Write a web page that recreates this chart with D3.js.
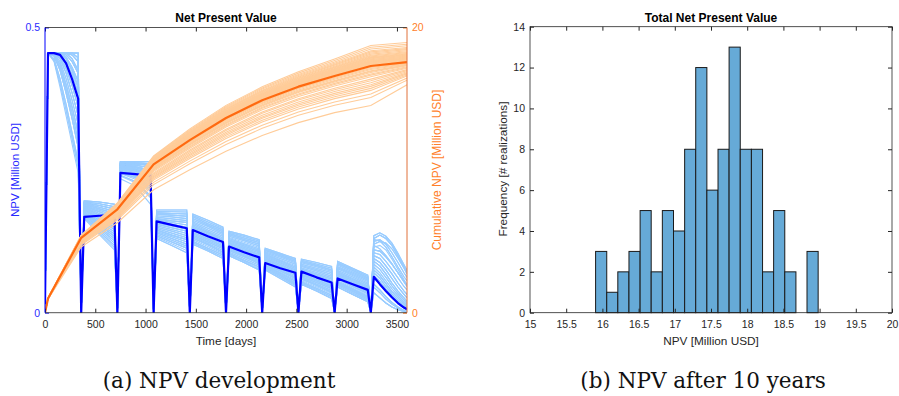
<!DOCTYPE html>
<html><head><meta charset="utf-8">
<script src="https://cdn.jsdelivr.net/npm/d3@7"></script>
<style>body{margin:0;background:#fff}svg{display:block}</style>
</head><body>
<svg id="c" width="899" height="396"></svg>
<script>
// ---------------- DATA ----------------
// Left panel: per-step NPV [Million USD] (left axis) and cumulative NPV (right axis)
const blueTime = [0,30,90,150,210,270,330,360, 390,540,690,720, 750,900,1050,1080,
  1110,1260,1410,1440, 1470,1620,1770,1800, 1830,1980,2130,2160, 2190,2340,2490,2520,
  2550,2700,2850,2880, 2910,3060,3210,3240, 3270,3330,3390,3450,3510,3570,3600];

const npvMean = [0.015,.455,.455,.452,.437,.409,.375,0, .168,.170,.172,0, .245,.243,.240,0,
  .160,.154,.148,0, .145,.134,.124,0, .116,.106,.097,0, .087,.078,.070,0, .072,.062,.053,0,
  .060,.050,.040,0, .063,.050,.038,.027,.017,.009,.006];

const npvRealizations = [
 [0,.455,.455,.455,.455,.455,.455,0,.196,.194,.190,0,.265,.265,.265,0,.175,.174,.173,0,.173,.162,.150,0,.139,.131,.123,0,.113,.104,.095,0,.090,.083,.075,0,.090,.078,.066,0,.130,.136,.130,.118,.100,.080,.070],
 [0,.455,.455,.455,.455,.455,.455,0,.193,.188,.182,0,.265,.265,.265,0,.180,.180,.180,0,.168,.156,.145,0,.143,.136,.128,0,.109,.100,.090,0,.094,.088,.081,0,.086,.074,.061,0,.120,.125,.122,.112,.096,.078,.068],
 [0,.455,.455,.455,.455,.455,.455,0,.193,.188,.182,0,.262,.261,.258,0,.170,.168,.165,0,.168,.156,.145,0,.134,.126,.117,0,.109,.100,.090,0,.085,.078,.070,0,.081,.069,.057,0,.125,.128,.120,.105,.088,.070,.062],
 [0,.455,.455,.455,.455,.452,.440,0,.196,.194,.190,0,.262,.261,.258,0,.175,.174,.173,0,.162,.151,.139,0,.139,.131,.123,0,.105,.095,.085,0,.090,.083,.075,0,.086,.074,.061,0,.115,.118,.110,.094,.076,.058,.050],
 [0,.455,.455,.455,.455,.452,.440,0,.190,.182,.174,0,.265,.265,.265,0,.165,.161,.158,0,.162,.151,.139,0,.130,.121,.112,0,.105,.095,.085,0,.081,.073,.064,0,.077,.065,.052,0,.110,.108,.098,.085,.070,.055,.048],
 [0,.455,.455,.455,.455,.452,.440,0,.193,.188,.182,0,.259,.256,.250,0,.170,.168,.165,0,.157,.145,.134,0,.134,.126,.117,0,.102,.091,.080,0,.085,.078,.070,0,.081,.069,.057,0,.130,.136,.130,.118,.100,.080,.070],
 [0,.455,.455,.455,.452,.440,.420,0,.190,.182,.174,0,.262,.261,.258,0,.165,.161,.158,0,.157,.145,.134,0,.126,.117,.107,0,.102,.091,.080,0,.076,.068,.059,0,.077,.065,.052,0,.100,.095,.082,.068,.052,.038,.032],
 [0,.455,.455,.455,.452,.440,.420,0,.187,.177,.166,0,.262,.261,.258,0,.160,.155,.150,0,.152,.140,.128,0,.130,.121,.112,0,.098,.087,.075,0,.081,.073,.064,0,.072,.060,.047,0,.110,.108,.098,.085,.070,.055,.048],
 [0,.455,.455,.455,.452,.440,.420,0,.190,.182,.174,0,.259,.256,.250,0,.155,.149,.143,0,.152,.140,.128,0,.122,.112,.102,0,.098,.087,.075,0,.072,.063,.053,0,.068,.056,.043,0,.090,.082,.068,.052,.038,.026,.020],
 [0,.455,.455,.453,.445,.425,.395,0,.187,.177,.166,0,.262,.261,.258,0,.160,.155,.150,0,.147,.135,.123,0,.126,.117,.107,0,.094,.082,.070,0,.076,.068,.059,0,.072,.060,.047,0,.125,.128,.120,.105,.088,.070,.062],
 [0,.455,.455,.453,.445,.425,.395,0,.184,.171,.158,0,.259,.256,.250,0,.155,.149,.143,0,.147,.135,.123,0,.122,.112,.102,0,.094,.082,.070,0,.068,.058,.047,0,.068,.056,.043,0,.080,.070,.056,.042,.030,.018,.013],
 [0,.455,.455,.453,.445,.425,.395,0,.187,.177,.166,0,.256,.252,.243,0,.150,.143,.135,0,.141,.129,.117,0,.117,.107,.096,0,.090,.078,.065,0,.072,.063,.053,0,.063,.051,.038,0,.100,.095,.082,.068,.052,.038,.032],
 [0,.455,.455,.450,.435,.410,.375,0,.184,.171,.158,0,.259,.256,.250,0,.155,.149,.143,0,.141,.129,.117,0,.122,.112,.102,0,.090,.078,.065,0,.068,.058,.047,0,.063,.051,.038,0,.070,.060,.046,.033,.022,.012,.008],
 [0,.455,.455,.450,.435,.410,.375,0,.181,.165,.150,0,.256,.252,.243,0,.150,.143,.135,0,.147,.135,.123,0,.117,.107,.096,0,.094,.082,.070,0,.063,.053,.042,0,.059,.046,.033,0,.090,.082,.068,.052,.038,.026,.020],
 [0,.455,.455,.450,.435,.410,.375,0,.184,.171,.158,0,.253,.248,.235,0,.145,.136,.128,0,.136,.124,.112,0,.113,.102,.091,0,.086,.073,.060,0,.068,.058,.047,0,.059,.046,.033,0,.060,.050,.037,.026,.016,.008,.004],
 [0,.455,.455,.445,.420,.385,.345,0,.181,.165,.150,0,.259,.256,.250,0,.160,.155,.150,0,.141,.129,.117,0,.113,.102,.091,0,.090,.078,.065,0,.063,.053,.042,0,.063,.051,.038,0,.110,.108,.098,.085,.070,.055,.048],
 [0,.455,.455,.445,.420,.385,.345,0,.177,.159,.142,0,.256,.252,.243,0,.145,.136,.128,0,.136,.124,.112,0,.117,.107,.096,0,.086,.073,.060,0,.063,.053,.042,0,.054,.041,.028,0,.080,.070,.056,.042,.030,.018,.013],
 [0,.455,.455,.445,.420,.385,.345,0,.181,.165,.150,0,.250,.243,.228,0,.140,.130,.120,0,.131,.119,.106,0,.109,.098,.086,0,.086,.073,.060,0,.059,.048,.036,0,.059,.046,.033,0,.050,.040,.028,.018,.010,.004,.002],
 [0,.455,.452,.435,.400,.360,.315,0,.177,.159,.142,0,.253,.248,.235,0,.145,.136,.128,0,.131,.119,.106,0,.109,.098,.086,0,.083,.069,.055,0,.059,.048,.036,0,.054,.041,.028,0,.070,.060,.046,.033,.022,.012,.008],
 [0,.455,.452,.435,.400,.360,.315,0,.174,.154,.134,0,.247,.239,.220,0,.140,.130,.120,0,.136,.124,.112,0,.104,.092,.080,0,.083,.069,.055,0,.054,.043,.031,0,.050,.037,.024,0,.035,.026,.017,.010,.005,.002,.001],
 [0,.455,.452,.435,.400,.360,.315,0,.174,.154,.134,0,.256,.252,.243,0,.135,.124,.113,0,.125,.113,.101,0,.109,.098,.086,0,.079,.065,.050,0,.059,.048,.036,0,.054,.041,.028,0,.060,.050,.037,.026,.016,.008,.004],
 [0,.455,.450,.425,.385,.340,.290,0,.171,.148,.126,0,.250,.243,.228,0,.140,.130,.120,0,.131,.119,.106,0,.104,.092,.080,0,.079,.065,.050,0,.054,.043,.031,0,.050,.037,.024,0,.050,.040,.028,.018,.010,.004,.002],
 [0,.455,.450,.425,.385,.340,.290,0,.171,.148,.126,0,.244,.234,.213,0,.135,.124,.113,0,.125,.113,.101,0,.104,.092,.080,0,.079,.065,.050,0,.054,.043,.031,0,.045,.032,.019,0,.035,.026,.017,.010,.005,.002,.001],
 [0,.455,.445,.410,.365,.315,.265,0,.168,.142,.118,0,.241,.230,.205,0,.130,.118,.105,0,.125,.113,.101,0,.100,.088,.075,0,.075,.060,.045,0,.050,.038,.025,0,.050,.037,.024,0,.060,.050,.037,.026,.016,.008,.004],
 [0,.455,.445,.410,.365,.315,.265,0,.168,.142,.118,0,.247,.239,.220,0,.135,.124,.113,0,.120,.108,.095,0,.100,.088,.075,0,.079,.065,.050,0,.050,.038,.025,0,.045,.032,.019,0,.050,.040,.028,.018,.010,.004,.002],
 [0,.455,.440,.395,.345,.295,.245,0,.165,.137,.110,0,.235,.222,.190,0,.130,.118,.105,0,.120,.108,.095,0,.100,.088,.075,0,.075,.060,.045,0,.050,.038,.025,0,.045,.032,.019,0,.035,.026,.017,.010,.005,.002,.001],
 [0,.455,.455,.455,.455,.455,.455,0,.196,.194,.190,0,.262,.261,.258,0,.180,.180,.180,0,.168,.156,.145,0,.139,.131,.123,0,.113,.104,.095,0,.090,.083,.075,0,.086,.074,.061,0,.120,.125,.122,.112,.096,.078,.068],
 [0,.455,.455,.455,.455,.452,.440,0,.193,.188,.182,0,.265,.265,.265,0,.175,.174,.173,0,.173,.162,.150,0,.143,.136,.128,0,.109,.100,.090,0,.094,.088,.081,0,.090,.078,.066,0,.130,.136,.130,.118,.100,.080,.070],
 [0,.455,.455,.453,.445,.425,.395,0,.187,.177,.166,0,.253,.248,.235,0,.165,.161,.158,0,.152,.140,.128,0,.126,.117,.107,0,.102,.091,.080,0,.076,.068,.059,0,.068,.056,.043,0,.090,.082,.068,.052,.038,.026,.020],
 [0,.455,.450,.425,.385,.340,.290,0,.174,.154,.134,0,.241,.230,.205,0,.145,.136,.128,0,.131,.119,.106,0,.113,.102,.091,0,.083,.069,.055,0,.059,.048,.036,0,.054,.041,.028,0,.100,.095,.082,.068,.052,.038,.032],
 [0,.455,.455,.455,.455,.455,.447,0,.1945,.191,.186,0,.2635,.263,.2615,0,.1775,.177,.1765,0,.1705,.159,.1475,0,.141,.1335,.1255,0,.111,.102,.0925,0,.092,.0855,.078,0,.088,.076,.0635,0,.135,.140,.134,.122,.104,.084,.074],
 [0,.455,.455,.455,.455,.455,.447,0,.1915,.185,.178,0,.2635,.263,.2615,0,.1725,.171,.169,0,.165,.1535,.142,0,.1365,.1285,.120,0,.107,.0975,.0875,0,.0875,.0805,.0725,0,.0835,.0715,.059,0,.128,.126,.115,.098,.080,.063,.056],
 [0,.455,.455,.455,.455,.445,.425,0,.1945,.191,.186,0,.2605,.2585,.254,0,.1675,.1645,.1615,0,.165,.1535,.142,0,.132,.1235,.1145,0,.107,.0975,.0875,0,.083,.0755,.067,0,.079,.067,.0545,0,.118,.112,.100,.086,.070,.054,.046],
 [0,.455,.455,.455,.455,.445,.425,0,.1885,.1795,.170,0,.2635,.263,.2615,0,.1725,.171,.169,0,.1595,.148,.1365,0,.1365,.1285,.120,0,.1035,.093,.0825,0,.083,.0755,.067,0,.079,.067,.0545,0,.105,.102,.090,.076,.061,.046,.040],
 [0,.455,.455,.455,.448,.430,.405,0,.1915,.185,.178,0,.2605,.2585,.254,0,.1625,.158,.154,0,.1595,.148,.1365,0,.128,.119,.1095,0,.100,.089,.0775,0,.0785,.0705,.0615,0,.0745,.0625,.0495,0,.095,.088,.075,.060,.045,.032,.026],
 [0,.455,.455,.455,.448,.430,.405,0,.1855,.174,.162,0,.2635,.263,.2615,0,.1675,.1645,.1615,0,.1545,.1425,.131,0,.124,.1145,.1045,0,.100,.089,.0775,0,.074,.0655,.056,0,.070,.058,.045,0,.128,.126,.115,.098,.080,.063,.056],
 [0,.455,.455,.452,.440,.418,.385,0,.1885,.1795,.170,0,.2575,.254,.2465,0,.1575,.152,.1465,0,.1545,.1425,.131,0,.124,.1145,.1045,0,.096,.0845,.0725,0,.074,.0655,.056,0,.0745,.0625,.0495,0,.085,.076,.062,.047,.034,.022,.016],
 [0,.455,.455,.452,.440,.418,.385,0,.1825,.168,.154,0,.2605,.2585,.254,0,.1525,.146,.139,0,.1495,.1375,.1255,0,.1195,.1095,.099,0,.092,.080,.0675,0,.070,.0605,.050,0,.0655,.0535,.0405,0,.075,.065,.051,.037,.026,.015,.010],
 [0,.455,.455,.448,.428,.398,.360,0,.1855,.174,.162,0,.2545,.250,.239,0,.1625,.158,.154,0,.144,.132,.120,0,.1195,.1095,.099,0,.096,.0845,.0725,0,.070,.0605,.050,0,.061,.0485,.0355,0,.065,.055,.042,.030,.019,.010,.006],
 [0,.455,.455,.448,.428,.398,.360,0,.179,.162,.146,0,.2575,.254,.2465,0,.1475,.1395,.1315,0,.1385,.1265,.1145,0,.115,.1045,.0935,0,.088,.0755,.0625,0,.0655,.0555,.0445,0,.061,.0485,.0355,0,.105,.102,.090,.076,.061,.046,.040],
 [0,.455,.454,.440,.410,.372,.330,0,.1825,.168,.154,0,.2515,.2455,.2315,0,.1525,.146,.139,0,.144,.132,.120,0,.115,.1045,.0935,0,.092,.080,.0675,0,.0655,.0555,.0445,0,.0655,.0535,.0405,0,.095,.088,.075,.060,.045,.032,.026],
 [0,.455,.454,.440,.410,.372,.330,0,.1755,.1565,.138,0,.2545,.250,.239,0,.1425,.133,.124,0,.1335,.1215,.109,0,.111,.100,.0885,0,.0845,.071,.0575,0,.061,.0505,.039,0,.0565,.0435,.0305,0,.045,.035,.024,.015,.008,.003,.001],
 [0,.455,.451,.430,.392,.350,.302,0,.1755,.1565,.138,0,.2485,.241,.224,0,.1375,.127,.1165,0,.1335,.1215,.109,0,.1065,.095,.083,0,.081,.067,.0525,0,.0565,.0455,.0335,0,.052,.039,.026,0,.065,.055,.042,.030,.019,.010,.006],
 [0,.455,.451,.430,.392,.350,.302,0,.1725,.151,.130,0,.2515,.2455,.2315,0,.1425,.133,.124,0,.128,.116,.1035,0,.111,.100,.0885,0,.081,.067,.0525,0,.061,.0505,.039,0,.052,.039,.026,0,.075,.065,.051,.037,.026,.015,.010],
 [0,.455,.442,.402,.355,.305,.255,0,.1695,.145,.122,0,.2455,.2365,.2165,0,.1325,.121,.109,0,.1225,.1105,.098,0,.102,.090,.0775,0,.077,.0625,.0475,0,.052,.0405,.028,0,.0475,.0345,.0215,0,.045,.035,.024,.015,.008,.003,.001],
 [0,.455,.442,.402,.355,.305,.255,0,.1665,.1395,.114,0,.2395,.228,.2015,0,.1375,.127,.1165,0,.1225,.1105,.098,0,.1065,.095,.083,0,.077,.0625,.0475,0,.052,.0405,.028,0,.0475,.0345,.0215,0,.085,.076,.062,.047,.034,.022,.016],
 [0,.455,.455,.455,.455,.455,.447,0,.1945,.191,.186,0,.2605,.2585,.254,0,.1775,.177,.1765,0,.165,.1535,.142,0,.141,.1335,.1255,0,.111,.102,.0925,0,.0875,.0805,.0725,0,.088,.076,.0635,0,.118,.112,.100,.086,.070,.054,.046],
 [0,.455,.455,.455,.455,.445,.425,0,.1915,.185,.178,0,.2575,.254,.2465,0,.1725,.171,.169,0,.1705,.159,.1475,0,.1365,.1285,.120,0,.111,.102,.0925,0,.092,.0855,.078,0,.0835,.0715,.059,0,.135,.140,.134,.122,.104,.084,.074],
 [0,.455,.455,.455,.448,.430,.405,0,.179,.162,.146,0,.2545,.250,.239,0,.1575,.152,.1465,0,.1495,.1375,.1255,0,.128,.119,.1095,0,.096,.0845,.0725,0,.0785,.0705,.0615,0,.070,.058,.045,0,.075,.065,.051,.037,.026,.015,.010],
 [0,.455,.455,.448,.428,.398,.360,0,.1725,.151,.130,0,.2455,.2365,.2165,0,.1475,.1395,.1315,0,.1385,.1265,.1145,0,.1195,.1095,.099,0,.088,.0755,.0625,0,.0655,.0555,.0445,0,.0655,.0535,.0405,0,.095,.088,.075,.060,.045,.032,.026]
];

const cumTime = [0,30,360,720,1080,1440,1800,2160,2520,2880,3240,3600];
const cumMean = [0,1.0,5.25,7.25,10.4,12.1,13.65,14.9,15.85,16.6,17.3,17.57];
const cumRealizations = [
 [0,1.03,5.45,7.70,10.99,12.89,14.54,15.84,16.89,17.79,18.74,18.95],
 [0,1.03,5.43,7.66,10.94,12.82,14.46,15.76,16.80,17.68,18.61,18.83],
 [0,1.02,5.41,7.62,10.89,12.76,14.39,15.68,16.71,17.58,18.49,18.72],
 [0,1.02,5.40,7.58,10.84,12.69,14.32,15.60,16.63,17.49,18.37,18.60],
 [0,1.02,5.39,7.56,10.81,12.64,14.26,15.55,16.56,17.42,18.29,18.52],
 [0,1.02,5.38,7.53,10.78,12.60,14.22,15.50,16.51,17.36,18.21,18.45],
 [0,1.02,5.36,7.51,10.74,12.56,14.16,15.44,16.45,17.28,18.13,18.37],
 [0,1.02,5.35,7.48,10.71,12.52,14.12,15.39,16.40,17.22,18.05,18.30],
 [0,1.01,5.35,7.47,10.69,12.48,14.08,15.36,16.35,17.18,18.00,18.24],
 [0,1.01,5.34,7.45,10.66,12.45,14.05,15.32,16.31,17.13,17.94,18.18],
 [0,1.01,5.33,7.43,10.65,12.43,14.02,15.29,16.28,17.09,17.89,18.14],
 [0,1.01,5.33,7.42,10.63,12.40,13.99,15.26,16.25,17.06,17.85,18.10],
 [0,1.01,5.32,7.41,10.61,12.38,13.97,15.23,16.22,17.02,17.81,18.06],
 [0,1.01,5.31,7.39,10.59,12.36,13.94,15.20,16.19,16.98,17.76,18.02],
 [0,1.01,5.31,7.39,10.58,12.34,13.92,15.19,16.17,16.96,17.74,17.99],
 [0,1.01,5.30,7.37,10.56,12.32,13.89,15.16,16.13,16.92,17.69,17.95],
 [0,1.00,5.30,7.36,10.55,12.30,13.88,15.14,16.11,16.90,17.66,17.92],
 [0,1.00,5.29,7.35,10.53,12.28,13.85,15.11,16.08,16.86,17.62,17.88],
 [0,1.00,5.29,7.34,10.52,12.26,13.83,15.09,16.06,16.84,17.59,17.85],
 [0,1.00,5.29,7.33,10.51,12.24,13.81,15.07,16.04,16.82,17.56,17.82],
 [0,1.00,5.28,7.32,10.49,12.22,13.79,15.04,16.01,16.78,17.52,17.78],
 [0,1.00,5.27,7.30,10.47,12.20,13.76,15.01,15.98,16.74,17.47,17.74],
 [0,1.00,5.27,7.29,10.45,12.17,13.73,14.99,15.94,16.71,17.43,17.70],
 [0,1.00,5.26,7.28,10.44,12.15,13.70,14.96,15.91,16.67,17.39,17.65],
 [0,1.00,5.25,7.26,10.41,12.12,13.67,14.92,15.87,16.62,17.33,17.60],
 [0,1.00,5.24,7.24,10.38,12.08,13.63,14.88,15.82,16.57,17.27,17.55],
 [0,1.00,5.22,7.21,10.33,12.02,13.56,14.80,15.75,16.50,17.19,17.50],
 [0,1.00,5.21,7.19,10.29,11.97,13.51,14.75,15.70,16.44,17.13,17.47],
 [0,1.00,5.19,7.16,10.24,11.91,13.44,14.68,15.62,16.37,17.05,17.42],
 [0,0.99,5.17,7.14,10.18,11.85,13.37,14.60,15.54,16.29,16.96,17.38],
 [0,0.99,5.16,7.12,10.15,11.81,13.32,14.55,15.49,16.24,16.91,17.35],
 [0,0.99,5.15,7.10,10.11,11.76,13.27,14.50,15.44,16.18,16.85,17.32],
 [0,0.99,5.12,7.06,10.04,11.68,13.18,14.40,15.34,16.08,16.74,17.25],
 [0,0.99,5.10,7.03,9.99,11.62,13.11,14.33,15.26,16.00,16.66,17.20],
 [0,0.99,5.07,6.99,9.91,11.53,13.02,14.23,15.16,15.90,16.54,17.14],
 [0,0.98,5.04,6.94,9.81,11.41,12.87,14.08,15.01,15.74,16.38,17.05],
 [0,0.98,5.01,6.90,9.73,11.32,12.78,13.98,14.91,15.64,16.26,16.98],
 [0,0.98,4.98,6.85,9.64,11.22,12.66,13.85,14.78,15.51,16.12,16.90],
 [0,0.98,4.94,6.80,9.55,11.11,12.55,13.73,14.65,15.38,15.98,16.82],
 [0,0.97,4.92,6.77,9.48,11.03,12.45,13.63,14.55,15.27,15.87,16.75],
 [0,0.97,4.89,6.72,9.39,10.92,12.33,13.50,14.42,15.14,15.73,16.67],
 [0,0.97,4.85,6.67,9.30,10.82,12.22,13.38,14.29,15.01,15.59,16.60],
 [0,0.97,4.80,6.59,9.14,10.63,12.01,13.15,14.07,14.78,15.34,16.45],
 [0,0.96,4.74,6.50,8.98,10.44,11.79,12.93,13.84,14.55,15.09,16.30],
 [0,0.95,4.61,6.31,8.62,10.02,11.32,12.43,13.33,14.03,14.53,15.98]
];

const timeTicks = [0,500,1000,1500,2000,2500,3000,3500];
const npvTicks = [0,0.5];
const cumTicks = [0,20];

// Right panel: histogram of total NPV
const histEdges = [15.906,16.060,16.213,16.367,16.521,16.674,16.828,16.982,17.136,17.289,17.443,
  17.597,17.750,17.904,18.058,18.212,18.365,18.519,18.673,18.826,18.980];
const histCounts = [3,1,2,3,5,2,5,4,8,12,6,8,13,8,8,2,5,2,0,3];
const npvAxisTicks = [15,15.5,16,16.5,17,17.5,18,18.5,19,19.5,20];
const freqTicks = [0,2,4,6,8,10,12,14];

// ---------------- DRAWING ----------------
const svg = d3.select("#c");
const SANS = "'Liberation Sans', Arial, Helvetica, sans-serif";
const SERIF = "'DejaVu Serif', 'Liberation Serif', serif";
const AX = "#262626";
const BLUE = "#0000ff", BLUE_LBL = "#2a2aff";
const ORANGE = "#ff6a10", ORANGE_LBL = "#ff7f2a", ORANGE_AX = "#e0703a";
const LIGHT_BLUE = "#99ccff", LIGHT_ORANGE = "#ffcc99";
const fmt = d => String(d);

function styleAxis(g, color, fs) {
  g.select(".domain").remove();
  g.selectAll(".tick line").attr("stroke", color);
  g.selectAll(".tick text").attr("fill", color).style("font-family", SANS).style("font-size", fs + "px");
}

// ---- Left panel ----
const L = {x0: 45, x1: 407, y0: 27.5, y1: 312.7};
const xL = d3.scaleLinear().domain([0, 3600]).range([L.x0, L.x1]);
const yNPV = d3.scaleLinear().domain([0, 0.5]).range([L.y1, L.y0]);
const yCum = d3.scaleLinear().domain([0, 20]).range([L.y1, L.y0]);

svg.append("clipPath").attr("id", "clipL").append("rect")
  .attr("x", L.x0).attr("y", L.y0 - 1).attr("width", L.x1 - L.x0).attr("height", L.y1 - L.y0 + 1);

const gL = svg.append("g").attr("clip-path", "url(#clipL)");
const npvLine = d3.line().x((d, i) => xL(blueTime[i])).y(d => yNPV(d));
const cumLine = d3.line().x((d, i) => xL(cumTime[i])).y(d => yCum(d));

gL.selectAll("path.nr").data(npvRealizations).join("path").attr("class", "nr")
  .attr("d", npvLine).attr("fill", "none").attr("stroke", LIGHT_BLUE).attr("stroke-width", 1.1);
gL.append("path").attr("d", npvLine(npvMean)).attr("fill", "none")
  .attr("stroke", BLUE).attr("stroke-width", 2.2).attr("stroke-linejoin", "round");
gL.selectAll("path.cr").data(cumRealizations).join("path").attr("class", "cr")
  .attr("d", cumLine).attr("fill", "none").attr("stroke", LIGHT_ORANGE).attr("stroke-width", 1.1);
gL.append("path").attr("d", cumLine(cumMean)).attr("fill", "none")
  .attr("stroke", ORANGE).attr("stroke-width", 2.2).attr("stroke-linejoin", "round");

// axes left panel
const axB = svg.append("g").attr("transform", `translate(0,${L.y1})`)
  .call(d3.axisBottom(xL).tickValues(timeTicks).tickFormat(fmt).tickSizeInner(-4).tickSizeOuter(0).tickPadding(8));
styleAxis(axB, AX, 10.5);
const axT = svg.append("g").attr("transform", `translate(0,${L.y0})`)
  .call(d3.axisTop(xL).tickValues(timeTicks).tickSizeInner(-4).tickSizeOuter(0).tickFormat(""));
styleAxis(axT, AX, 10.5);
const axLft = svg.append("g").attr("transform", `translate(${L.x0},0)`)
  .call(d3.axisLeft(yNPV).tickValues(npvTicks).tickFormat(fmt).tickSizeInner(-4).tickSizeOuter(0).tickPadding(5));
styleAxis(axLft, BLUE_LBL, 10.5);
const axRgt = svg.append("g").attr("transform", `translate(${L.x1},0)`)
  .call(d3.axisRight(yCum).tickValues(cumTicks).tickFormat(fmt).tickSizeInner(-4).tickSizeOuter(0).tickPadding(5));
styleAxis(axRgt, ORANGE_LBL, 10.5);

svg.append("line").attr("x1", L.x0).attr("x2", L.x1).attr("y1", L.y0).attr("y2", L.y0).attr("stroke", AX).attr("stroke-width", 0.8);
svg.append("line").attr("x1", L.x0).attr("x2", L.x1).attr("y1", L.y1).attr("y2", L.y1).attr("stroke", AX).attr("stroke-width", 0.8);
svg.append("line").attr("x1", L.x0).attr("x2", L.x0).attr("y1", L.y0).attr("y2", L.y1).attr("stroke", BLUE).attr("stroke-width", 1);
svg.append("line").attr("x1", L.x1).attr("x2", L.x1).attr("y1", L.y0).attr("y2", L.y1).attr("stroke", ORANGE_AX).attr("stroke-width", 1);

svg.append("text").attr("x", (L.x0 + L.x1) / 2).attr("y", 22).attr("text-anchor", "middle")
  .style("font-family", SANS).style("font-size", "12px").style("font-weight", "bold").attr("fill", "#000")
  .text("Net Present Value");
svg.append("text").attr("x", (L.x0 + L.x1) / 2).attr("y", 345).attr("text-anchor", "middle")
  .style("font-family", SANS).style("font-size", "11.8px").attr("fill", AX).text("Time [days]");
svg.append("text").attr("transform", "translate(18.5,170) rotate(-90)").attr("text-anchor", "middle")
  .style("font-family", SANS).style("font-size", "11.6px").attr("fill", BLUE_LBL).text("NPV [Million USD]");
svg.append("text").attr("transform", "translate(441,170) rotate(-90)").attr("text-anchor", "middle")
  .style("font-family", SANS).style("font-size", "12px").attr("fill", ORANGE_LBL).text("Cumulative NPV [Million USD]");

// ---- Right panel (histogram) ----
const R = {x0: 530, x1: 892, y0: 26.7, y1: 312.7};
const xH = d3.scaleLinear().domain([15, 20]).range([R.x0, R.x1]);
const yH = d3.scaleLinear().domain([0, 14]).range([R.y1, R.y0]);

svg.append("g").selectAll("rect").data(histCounts).join("rect")
  .attr("x", (d, i) => xH(histEdges[i]))
  .attr("width", (d, i) => xH(histEdges[i + 1]) - xH(histEdges[i]))
  .attr("y", d => yH(d)).attr("height", d => yH(0) - yH(d))
  .attr("fill", "#66aad7").attr("stroke", "#1a1a1a").attr("stroke-width", 1);

const hB = svg.append("g").attr("transform", `translate(0,${R.y1})`)
  .call(d3.axisBottom(xH).tickValues(npvAxisTicks).tickFormat(fmt).tickSizeInner(-4).tickSizeOuter(0).tickPadding(8));
styleAxis(hB, AX, 10.5);
const hT = svg.append("g").attr("transform", `translate(0,${R.y0})`)
  .call(d3.axisTop(xH).tickValues(npvAxisTicks).tickSizeInner(-4).tickSizeOuter(0).tickFormat(""));
styleAxis(hT, AX, 10.5);
const hL = svg.append("g").attr("transform", `translate(${R.x0},0)`)
  .call(d3.axisLeft(yH).tickValues(freqTicks).tickFormat(fmt).tickSizeInner(-4).tickSizeOuter(0).tickPadding(5));
styleAxis(hL, AX, 10.5);
const hR = svg.append("g").attr("transform", `translate(${R.x1},0)`)
  .call(d3.axisRight(yH).tickValues(freqTicks).tickSizeInner(-4).tickSizeOuter(0).tickFormat(""));
styleAxis(hR, AX, 10.5);
svg.append("rect").attr("x", R.x0).attr("y", R.y0).attr("width", R.x1 - R.x0).attr("height", R.y1 - R.y0)
  .attr("fill", "none").attr("stroke", AX).attr("stroke-width", 0.8);

svg.append("text").attr("x", (R.x0 + R.x1) / 2).attr("y", 21.5).attr("text-anchor", "middle")
  .style("font-family", SANS).style("font-size", "12px").style("font-weight", "bold").attr("fill", "#000")
  .text("Total Net Present Value");
svg.append("text").attr("x", (R.x0 + R.x1) / 2).attr("y", 345).attr("text-anchor", "middle")
  .style("font-family", SANS).style("font-size", "11.8px").attr("fill", AX).text("NPV [Million USD]");
svg.append("text").attr("transform", "translate(507,169) rotate(-90)").attr("text-anchor", "middle")
  .style("font-family", SANS).style("font-size", "11.8px").attr("fill", AX).text("Frequency [# realizations]");

// ---- Captions ----
svg.append("text").attr("x", 219).attr("y", 388).attr("text-anchor", "middle")
  .style("font-family", SERIF).style("font-size", "21.5px").attr("fill", "#111").text("(a) NPV development");
svg.append("text").attr("x", 703).attr("y", 388).attr("text-anchor", "middle")
  .style("font-family", SERIF).style("font-size", "21.5px").attr("fill", "#111").text("(b) NPV after 10 years");
</script>
</body></html>
